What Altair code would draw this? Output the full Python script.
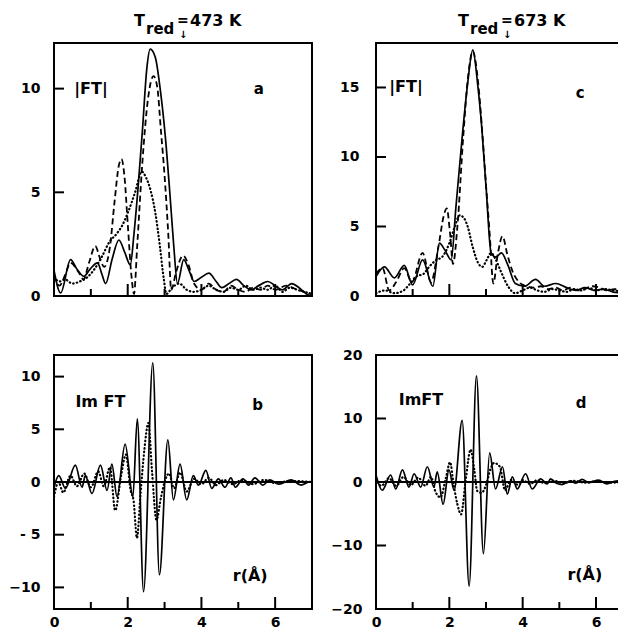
import altair as alt
import pandas as pd

# ---------------- data (r in Angstrom, value) ----------------
# Panel a : |FT|, T_red = 473 K
A_SOLID = [(0.00,1.25),(0.18,0.15),(0.45,1.75),(0.62,1.30),(0.81,0.95),(0.98,1.30),(1.18,1.60),(1.30,1.05),
           (1.40,0.60),(1.58,1.80),(1.76,2.70),(1.92,2.10),(2.07,1.50),(2.17,3.00),(2.28,5.20),(2.40,8.00),
           (2.52,11.0),(2.61,11.9),(2.75,11.5),(2.88,10.0),(3.02,7.70),(3.15,4.80),(3.25,2.40),(3.35,0.60),
           (3.52,1.75),(3.65,1.30),(3.80,0.70),(4.00,0.90),(4.20,1.10),(4.40,0.70),(4.55,0.40),(4.75,0.60),
           (4.95,0.80),(5.15,0.50),(5.35,0.30),(5.55,0.50),(5.80,0.70),(6.00,0.50),(6.20,0.30),(6.45,0.60),
           (6.65,0.40),(6.85,0.10),(7.00,0.00)]
A_DASHED = [(0.00,1.00),(0.15,0.50),(0.30,1.00),(0.45,1.60),(0.65,1.20),(0.80,0.80),(0.95,1.60),(1.12,2.40),
            (1.25,1.80),(1.36,1.40),(1.52,2.40),(1.64,4.50),(1.76,6.30),(1.83,6.60),(1.91,5.80),(2.00,3.50),
            (2.10,1.00),(2.17,0.10),(2.26,2.50),(2.40,6.50),(2.55,9.50),(2.70,10.6),(2.80,10.1),(2.90,8.00),
            (3.00,5.80),(3.10,3.00),(3.18,0.30),(3.32,1.20),(3.50,1.95),(3.65,1.50),(3.80,0.60),(4.00,0.30),
            (4.20,0.60),(4.40,0.30),(4.60,0.20),(4.80,0.50),(5.00,0.30),(5.20,0.20),(5.40,0.40),(5.60,0.30),
            (5.80,0.50),(6.00,0.30),(6.30,0.50),(6.60,0.30),(7.00,0.10)]
A_DOTTED = [(0.00,0.90),(0.15,0.70),(0.30,0.80),(0.50,0.60),(0.70,0.70),(0.90,0.90),(1.10,1.30),(1.30,1.90),
            (1.50,2.60),(1.70,3.00),(1.85,3.40),(2.00,4.00),(2.20,5.00),(2.38,6.00),(2.50,5.70),(2.62,5.10),
            (2.75,4.00),(2.88,2.30),(2.98,0.80),(3.05,0.10),(3.20,0.40),(3.40,0.60),(3.60,0.30),(3.80,0.20),
            (4.00,0.30),(4.20,0.50),(4.40,0.30),(4.60,0.20),(4.80,0.40),(5.00,0.30),(5.20,0.50),(5.40,0.30),
            (5.60,0.40),(5.80,0.30),(6.00,0.50),(6.20,0.20),(6.40,0.40),(6.60,0.30),(7.00,0.10)]

# Panel b : Im FT, T_red = 473 K
B_SOLID = [(0.00,-0.5),(0.13,0.6),(0.31,-0.6),(0.58,1.6),(0.76,-0.5),(0.85,0.6),(1.03,-1.1),(1.26,1.6),
           (1.44,-0.8),(1.57,1.7),(1.71,-1.4),(1.93,3.6),(2.14,-1.4),(2.26,6.0),(2.43,-10.4),(2.68,11.3),
           (2.86,-8.8),(3.09,4.0),(3.24,-1.7),(3.42,1.7),(3.60,-1.7),(3.78,0.6),(3.92,-0.3),(4.12,1.1),
           (4.28,-0.6),(4.46,0.3),(4.64,-0.5),(4.80,0.4),(4.92,-0.5),(5.13,0.3),(5.28,-0.3),(5.45,0.4),
           (5.67,-0.3),(5.85,0.2),(6.10,-0.2),(6.44,0.2),(6.70,-0.3),(6.94,0.0),(7.00,0.0)]
B_DOTTED = [(0.00,-1.4),(0.12,0.0),(0.25,-1.0),(0.45,0.6),(0.62,-0.4),(0.82,0.8),(1.00,-0.5),(1.20,1.0),
            (1.35,-0.4),(1.52,1.4),(1.66,-2.7),(1.82,0.6),(1.95,2.6),(2.08,-0.8),(2.16,-1.8),(2.25,-5.3),
            (2.35,-1.0),(2.45,3.0),(2.56,5.6),(2.66,1.0),(2.78,-3.6),(2.90,-1.5),(3.00,0.0),(3.12,0.8),
            (3.26,-0.6),(3.42,0.9),(3.60,-0.9),(3.80,0.3),(4.00,-0.2),(4.20,0.4),(4.40,-0.3),(4.60,0.2),
            (4.85,-0.2),(5.10,0.2),(5.40,-0.2),(5.70,0.2),(6.00,-0.1),(6.40,0.1),(7.00,0.0)]

# Panel c : |FT|, T_red = 673 K
C_SOLID = [(0.00,1.4),(0.23,2.1),(0.50,1.3),(0.77,2.2),(1.00,0.8),(1.27,2.6),(1.55,0.7),(1.73,3.8),
           (1.88,3.3),(2.05,2.6),(2.18,6.4),(2.36,11.7),(2.50,15.3),(2.64,17.7),(2.77,15.3),(2.86,12.9),
           (3.00,7.9),(3.14,3.1),(3.27,2.8),(3.42,3.1),(3.60,2.2),(3.80,0.9),(4.05,0.7),(4.35,1.2),
           (4.60,0.7),(4.90,0.9),(5.20,0.6),(5.45,0.4),(5.70,0.6),(5.95,0.4),(6.20,0.5),(6.45,0.3),(6.80,0.2)]
C_DASHED = [(0.00,1.6),(0.18,2.0),(0.36,0.4),(0.55,1.0),(0.77,2.0),(0.98,1.0),(1.27,3.1),(1.50,1.0),
            (1.70,3.5),(1.85,5.8),(1.93,6.3),(2.02,4.5),(2.10,2.3),(2.22,5.0),(2.38,11.5),(2.52,16.0),
            (2.64,17.6),(2.78,15.5),(2.90,11.7),(3.00,8.0),(3.10,4.5),(3.20,0.9),(3.32,3.0),(3.45,4.3),
            (3.58,3.0),(3.72,1.8),(3.90,1.0),(4.10,0.7),(4.30,0.6),(4.50,0.7),(4.70,0.5),(4.90,0.6),
            (5.10,0.4),(5.30,0.6),(5.50,0.4),(5.70,0.5),(5.90,0.7),(6.10,0.6),(6.30,0.4),(6.50,0.5),(6.80,0.3)]
C_DOTTED = [(0.00,0.2),(0.25,0.4),(0.50,0.2),(0.75,0.4),(0.90,0.8),(1.10,1.4),(1.30,1.6),(1.45,2.1),
            (1.65,2.6),(1.80,2.8),(2.00,3.8),(2.15,5.0),(2.28,5.8),(2.40,5.6),(2.50,5.0),(2.64,3.5),
            (2.78,2.4),(2.90,2.1),(3.02,2.6),(3.14,3.1),(3.25,2.7),(3.40,1.8),(3.60,0.7),(3.80,0.2),
            (4.00,0.4),(4.20,0.6),(4.40,0.4),(4.60,0.3),(4.80,0.5),(5.00,0.4),(5.20,0.3),(5.40,0.5),
            (5.60,0.4),(5.80,0.6),(6.00,0.4),(6.20,0.5),(6.50,0.4),(6.80,0.3)]

# Panel d : Im FT, T_red = 673 K
D_SOLID = [(0.00,1.1),(0.17,-1.3),(0.40,1.1),(0.54,-1.1),(0.72,1.9),(0.90,-0.8),(1.04,1.3),(1.22,-0.8),
           (1.40,2.4),(1.58,-0.8),(1.67,1.6),(1.83,-3.5),(1.99,1.9),(2.13,-1.3),(2.35,9.7),(2.54,-16.4),
           (2.74,16.7),(2.93,-11.3),(3.10,4.6),(3.26,-1.1),(3.45,2.4),(3.58,-1.9),(3.72,0.8),(3.85,-1.1),
           (4.08,1.3),(4.26,-1.1),(4.49,0.5),(4.67,-0.3),(4.76,0.5),(4.92,-0.2),(5.08,-0.4),(5.30,0.2),
           (5.45,-0.2),(5.62,0.4),(5.80,-0.1),(6.07,0.3),(6.30,-0.3),(6.50,0.1),(6.71,0.2),(6.80,0.0)]
D_DOTTED = [(0.00,0.5),(0.15,-0.6),(0.35,0.6),(0.55,-0.6),(0.75,0.8),(0.95,-0.5),(1.15,0.7),(1.35,-0.6),
            (1.50,0.8),(1.62,-1.5),(1.76,-2.4),(1.90,0.5),(2.02,3.1),(2.12,-0.5),(2.22,-3.5),(2.32,-5.1),
            (2.45,0.5),(2.58,5.1),(2.68,2.0),(2.76,-1.4),(2.88,-1.7),(3.00,-0.5),(3.12,2.0),(3.22,3.0),
            (3.38,2.4),(3.52,-1.3),(3.68,0.3),(3.85,-0.4),(4.00,0.3),(4.20,-0.3),(4.40,0.3),(4.60,-0.2),
            (4.85,0.2),(5.10,-0.2),(5.40,0.2),(5.70,-0.1),(6.00,0.1),(6.40,-0.1),(6.80,0.0)]

# axis tick values
X_LABELS = [0, 2, 4, 6]
X_TICKS_MAJOR = [2, 4, 6]
X_TICKS_MINOR = [1, 3, 5]
A_YLABELS = [0, 5, 10]
B_YLABELS = [-10, -5, 0, 5, 10]
C_YLABELS = [0, 5, 10, 15]
D_YLABELS = [-20, -10, 0, 10, 20]

FONT = "DejaVu Sans"
W_L, W_R = 258, 242
H_T, H_B = 253, 254
XR_MAX = 6.6


def panel(series, xdom, ydom, ylabels, yticks, W, H, show_x, right_frame,
          notes, zero_line=False, title=None, ylabel_expr=None, ypad=14):
    xaxis = None
    if show_x:
        xaxis = alt.Axis(values=X_LABELS, ticks=False, domain=False, grid=False, title=None,
                         labelFont=FONT, labelFontSize=14, labelFontWeight="bold",
                         labelColor="black", labelPadding=6, labelFlush=False, labelOverlap=False,
                         format="d")
    yaxis_kw = dict(values=ylabels, ticks=False, domain=False, grid=False, title=None,
                    labelFont=FONT, labelFontSize=14, labelFontWeight="bold", labelColor="black",
                    labelPadding=ypad, labelFlush=False, labelOverlap=False, format="d")
    if ylabel_expr:
        yaxis_kw["labelExpr"] = ylabel_expr
    xenc = alt.X("r:Q", scale=alt.Scale(domain=xdom, nice=False, zero=False), axis=xaxis)
    yenc = alt.Y("v:Q", scale=alt.Scale(domain=ydom, nice=False, zero=False), axis=alt.Axis(**yaxis_kw))

    layers = []
    one = pd.DataFrame({"k": [0]})
    # curves
    for pts, style in series:
        df = pd.DataFrame(pts, columns=["r", "v"])
        kw = dict(color="black", interpolate="monotone", clip=True)
        if style == "solid":
            kw.update(strokeWidth=1.7)
        elif style == "dashed":
            kw.update(strokeWidth=1.8, strokeDash=[6, 3.5])
        else:
            kw.update(strokeWidth=2.2, strokeDash=[0.5, 3.2], strokeCap="round")
        layers.append(alt.Chart(df).mark_line(**kw).encode(x=xenc, y=yenc))
    if zero_line:
        layers.append(alt.Chart(pd.DataFrame({"v": [0]})).mark_rule(color="black", strokeWidth=2)
                      .encode(y=yenc, x=alt.value(0), x2=alt.value(W)))
    # inward ticks
    layers.append(alt.Chart(pd.DataFrame({"v": yticks})).mark_rule(color="black", strokeWidth=2)
                  .encode(y=yenc, x=alt.value(0), x2=alt.value(10)))
    layers.append(alt.Chart(pd.DataFrame({"r": X_TICKS_MAJOR})).mark_rule(color="black", strokeWidth=2)
                  .encode(x=xenc, y=alt.value(H), y2=alt.value(H - 12)))
    layers.append(alt.Chart(pd.DataFrame({"r": X_TICKS_MINOR})).mark_rule(color="black", strokeWidth=2)
                  .encode(x=xenc, y=alt.value(H), y2=alt.value(H - 7)))
    # frame
    xr = W + 1 if right_frame else W
    frame = [
        dict(x=alt.value(0), x2=alt.value(xr), y=alt.value(0)),
        dict(x=alt.value(0), x2=alt.value(xr), y=alt.value(H)),
        dict(x=alt.value(0), y=alt.value(-1), y2=alt.value(H + 1)),
    ]
    if right_frame:
        frame.append(dict(x=alt.value(W), y=alt.value(-1), y2=alt.value(H + 1)))
    for f in frame:
        layers.append(alt.Chart(one).mark_rule(color="black", strokeWidth=2).encode(**f))
    # in-panel labels
    ndf = pd.DataFrame(notes, columns=["r", "v", "label", "fs"])
    layers.append(alt.Chart(ndf).mark_text(align="left", baseline="middle", font=FONT,
                                           fontWeight="bold", color="black")
                  .encode(x=xenc, y=yenc, text="label:N",
                          size=alt.Size("fs:Q", scale=None, legend=None)))
    # title  T_red = ... K
    if title:
        x0, value = title
        parts = [("T", x0, -17, 16), ("red", x0 + 12, -9, 15), ("=", x0 + 43, -18, 14),
                 ("↓", x0 + 45, -5, 10), (value, x0 + 56, -17, 16)]
        for txt, px, py, fs in parts:
            layers.append(alt.Chart(one).mark_text(align="left", baseline="alphabetic", font=FONT,
                                                   fontWeight="bold", fontSize=fs, color="black",
                                                   text=txt)
                          .encode(x=alt.value(px), y=alt.value(py)))
    return alt.layer(*layers).properties(width=W, height=H)


pa = panel([(A_SOLID, "solid"), (A_DASHED, "dashed"), (A_DOTTED, "dotted")],
           [0, 7], [0, 12.2], A_YLABELS, [5, 10], W_L, H_T, False, True,
           [(0.55, 10, "|FT|", 16), (5.42, 10, "a", 15)], title=(80, "473 K"))
pc = panel([(C_SOLID, "solid"), (C_DASHED, "dashed"), (C_DOTTED, "dotted")],
           [0, XR_MAX], [0, 18.2], C_YLABELS, [5, 10, 15], W_R, H_T, False, False,
           [(0.36, 15, "|FT|", 16), (5.45, 14.6, "c", 15)], title=(82, "673 K"), ypad=17)
pb = panel([(B_SOLID, "solid"), (B_DOTTED, "dotted")],
           [0, 7], [-12.05, 12.05], B_YLABELS, [-10, -5, 5, 10], W_L, H_B, True, True,
           [(0.58, 7.6, "Im FT", 16), (5.38, 7.3, "b", 15), (4.85, -8.9, "r(Å)", 16)],
           zero_line=True, ylabel_expr="datum.value == -5 ? '- 5' : datum.label")
pd_ = panel([(D_SOLID, "solid"), (D_DOTTED, "dotted")],
            [0, XR_MAX], [-20, 20], D_YLABELS, [-10, 10], W_R, H_B, True, False,
            [(0.62, 12.9, "ImFT", 16), (5.45, 12.4, "d", 15), (5.22, -14.6, "r(Å)", 16)],
            zero_line=True)

chart = alt.concat(pa, pc, pb, pd_, columns=2, align="each",
                   spacing={"row": 45, "column": 16}).properties(
    padding={"left": 0, "top": 5, "right": 0, "bottom": 0}
).configure_view(stroke=None)

chart.save("out.html", embed_options={"renderer": "svg", "actions": False})
